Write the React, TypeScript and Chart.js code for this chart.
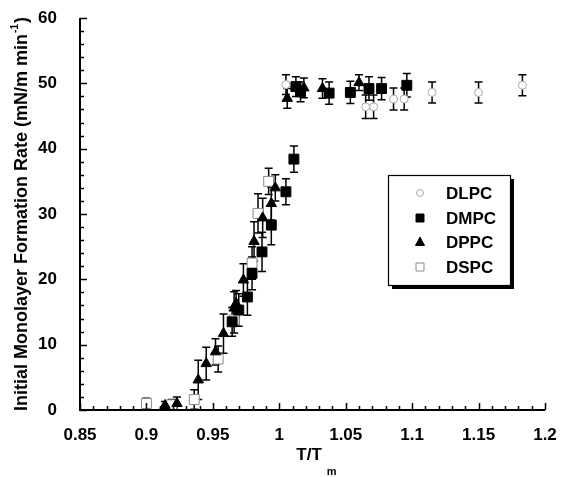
import React, { useEffect, useRef } from "react";
import { Chart, registerables } from "chart.js";
Chart.register(...registerables);

// ---- data ----
const DLPC_X = [1.005, 1.065, 1.071, 1.086, 1.094, 1.115, 1.15, 1.183];
const DLPC_Y = [49.8, 46.4, 46.4, 47.6, 47.6, 48.6, 48.6, 49.7];
const DLPC_E = [1.5, 1.8, 1.8, 1.7, 1.7, 1.6, 1.6, 1.6];

const DMPC_X = [0.9645, 0.9695, 0.976, 0.9795, 0.987, 0.994, 1.005, 1.011, 1.0125, 1.016, 1.0375, 1.0535, 1.0675, 1.077, 1.096];
const DMPC_Y = [13.5, 15.3, 17.3, 20.9, 24.2, 28.3, 33.4, 38.4, 49.5, 48.7, 48.5, 48.6, 49.2, 49.2, 49.7];
const DMPC_E = [2.2, 2.5, 2.8, 2.5, 3.0, 3.0, 2.0, 2.0, 1.5, 1.5, 1.7, 1.7, 1.8, 1.7, 1.8];

const DPPC_X = [0.914, 0.923, 0.939, 0.945, 0.952, 0.958, 0.966, 0.9675, 0.973, 0.981, 0.9875, 0.994, 0.997, 1.006, 1.0185, 1.0325, 1.06];
const DPPC_Y = [0.7, 1.0, 4.6, 7.1, 8.9, 11.7, 15.6, 16.3, 19.9, 25.8, 29.4, 31.6, 34.0, 47.7, 49.3, 49.2, 50.1];
const DPPC_E = [0.6, 1.0, 3.0, 2.5, 2.0, 3.0, 2.5, 2.0, 2.5, 3.0, 3.0, 2.5, 2.0, 1.5, 1.5, 1.5, 1.2];

const DSPC_X = [0.9, 0.919, 0.936, 0.954, 0.966, 0.9795, 0.984, 0.992];
const DSPC_Y = [1.0, 0.8, 1.6, 7.8, 13.8, 22.5, 30.1, 35.0];
const DSPC_E = [0.8, 0.8, 1.5, 2.0, 2.0, 2.5, 3.0, 2.0];

const X_MIN = 0.85, X_MAX = 1.2, X_STEP = 0.05, X_MINOR = 0.01;
const Y_MIN = 0, Y_MAX = 60, Y_STEP = 10, Y_MINOR = 2;

const Y_TITLE = "Initial Monolayer Formation Rate (mN/m min";
const Y_TITLE_SUP = "-1";
const X_TITLE = "T/T";
const X_TITLE_SUB = "m";
const LEGEND_NAMES = ["DLPC", "DMPC", "DPPC", "DSPC"];

const FONT = "'Liberation Sans', Arial, sans-serif";

const pts = (xs: number[], ys: number[]) => xs.map((x, i) => ({ x, y: ys[i] }));

const errorBars = {
  id: "errorBars",
  beforeDatasetsDraw(chart: any) {
    const ctx = chart.ctx;
    const ys = chart.scales.y;
    ctx.save();
    ctx.strokeStyle = "#000";
    ctx.lineWidth = 1.5;
    chart.data.datasets.forEach((ds: any, i: number) => {
      const meta = chart.getDatasetMeta(i);
      ds.data.forEach((p: any, j: number) => {
        const e = ds.errs[j];
        const px = meta.data[j].x;
        const t = ys.getPixelForValue(p.y + e);
        const b = ys.getPixelForValue(Math.max(p.y - e, 0));
        ctx.beginPath();
        ctx.moveTo(px, t); ctx.lineTo(px, b);
        ctx.moveTo(px - 4, t); ctx.lineTo(px + 4, t);
        ctx.moveTo(px - 4, b); ctx.lineTo(px + 4, b);
        ctx.stroke();
      });
    });
    ctx.restore();
  },
};

const axesPlugin = {
  id: "axesPlugin",
  afterDatasetsDraw(chart: any) {
    const ctx = chart.ctx;
    const a = chart.chartArea;
    const xs = chart.scales.x, ys = chart.scales.y;
    ctx.save();
    ctx.strokeStyle = "#000";
    ctx.lineWidth = 2;
    ctx.beginPath();
    ctx.moveTo(a.left, a.top); ctx.lineTo(a.left, a.bottom); ctx.lineTo(a.right, a.bottom);
    ctx.stroke();
    ctx.lineWidth = 1.5;
    ctx.beginPath();
    const nY = Math.round((Y_MAX - Y_MIN) / Y_MINOR);
    for (let k = 0; k <= nY; k++) {
      const v = Y_MIN + k * Y_MINOR;
      const py = Math.round(ys.getPixelForValue(v)) + 0.5;
      const len = Math.abs(v % Y_STEP) < 1e-9 ? 7 : 4;
      ctx.moveTo(a.left, py); ctx.lineTo(a.left + len, py);
    }
    const nX = Math.round((X_MAX - X_MIN) / X_MINOR);
    for (let k = 0; k <= nX; k++) {
      const v = X_MIN + k * X_MINOR;
      const px = Math.round(xs.getPixelForValue(v)) + 0.5;
      const len = k % Math.round(X_STEP / X_MINOR) === 0 ? 7 : 4;
      ctx.moveTo(px, a.bottom); ctx.lineTo(px, a.bottom - len);
    }
    ctx.stroke();
    ctx.restore();
  },
};

const titlesPlugin = {
  id: "titlesPlugin",
  afterDraw(chart: any) {
    const ctx = chart.ctx;
    const a = chart.chartArea;
    ctx.save();
    ctx.fillStyle = "#000";
    // y title
    const big = `bold 18px ${FONT}`;
    const small = `bold 10px ${FONT}`;
    ctx.font = big;
    const w1 = ctx.measureText(Y_TITLE).width;
    ctx.font = small;
    const w2 = ctx.measureText(Y_TITLE_SUP).width;
    ctx.font = big;
    const w3 = ctx.measureText(")").width;
    const total = w1 + w2 + w3 + 2;
    ctx.translate(22, (a.top + a.bottom) / 2);
    ctx.rotate(-Math.PI / 2);
    ctx.textBaseline = "middle";
    ctx.textAlign = "left";
    let sx = -total / 2;
    ctx.fillText(Y_TITLE, sx, 0);
    sx += w1 + 1;
    ctx.font = small;
    ctx.fillText(Y_TITLE_SUP, sx, -7);
    sx += w2 + 1;
    ctx.font = big;
    ctx.fillText(")", sx, 0);
    ctx.restore();

    // x title
    ctx.save();
    ctx.fillStyle = "#000";
    ctx.font = `bold 17px ${FONT}`;
    const tw = ctx.measureText(X_TITLE).width;
    ctx.font = `bold 11px ${FONT}`;
    const sw = ctx.measureText(X_TITLE_SUB).width;
    const cx = (a.left + a.right) / 2 + 4;
    const x0 = cx - (tw + 5 + sw) / 2;
    ctx.textBaseline = "alphabetic";
    ctx.textAlign = "left";
    ctx.font = `bold 17px ${FONT}`;
    ctx.fillText(X_TITLE, x0, 460);
    ctx.font = `bold 11px ${FONT}`;
    ctx.fillText(X_TITLE_SUB, x0 + tw + 5, 475);
    ctx.restore();
  },
};

const legendPlugin = {
  id: "customLegend",
  afterDraw(chart: any) {
    const ctx = chart.ctx;
    const L = 388, T = 175, W = 122, H = 110;
    ctx.save();
    ctx.fillStyle = "#000";
    ctx.fillRect(L + 4, T + 4, W, H);
    ctx.fillStyle = "#fff";
    ctx.fillRect(L, T, W, H);
    ctx.strokeStyle = "#000";
    ctx.lineWidth = 1.2;
    ctx.strokeRect(L + 0.5, T + 0.5, W, H);
    const rows = [193, 218, 242, 267];
    chart.data.datasets.forEach((ds: any, i: number) => {
      const y = rows[i];
      const mx = 420;
      ctx.save();
      ctx.fillStyle = ds.backgroundColor;
      ctx.strokeStyle = ds.borderColor;
      ctx.lineWidth = ds.borderWidth;
      ctx.beginPath();
      if (ds.pointStyle === "circle") {
        ctx.arc(mx, y, 3.5, 0, Math.PI * 2);
        ctx.fill(); ctx.stroke();
      } else if (ds.pointStyle === "rect") {
        ctx.rect(mx - 4, y - 4, 8, 8);
        ctx.fill(); ctx.stroke();
      } else {
        ctx.moveTo(mx, y - 5); ctx.lineTo(mx + 4.5, y + 3.5); ctx.lineTo(mx - 4.5, y + 3.5); ctx.closePath();
        ctx.fill(); ctx.stroke();
      }
      ctx.restore();
      ctx.fillStyle = "#000";
      ctx.font = `bold 17px ${FONT}`;
      ctx.textBaseline = "middle";
      ctx.textAlign = "left";
      ctx.fillText(LEGEND_NAMES[i], 446, y + 1);
    });
    ctx.restore();
  },
};

export default function App() {
  const ref = useRef<HTMLCanvasElement>(null);
  useEffect(() => {
    document.body.style.margin = "0";
    const chart = new Chart(ref.current!, {
      type: "scatter",
      data: {
        datasets: [
          { label: LEGEND_NAMES[0], data: pts(DLPC_X, DLPC_Y), errs: DLPC_E, pointStyle: "circle", pointRadius: 4, backgroundColor: "#fff", borderColor: "#aaa", borderWidth: 1 } as any,
          { label: LEGEND_NAMES[1], data: pts(DMPC_X, DMPC_Y), errs: DMPC_E, pointStyle: "rect", pointRadius: 7, backgroundColor: "#000", borderColor: "#000", borderWidth: 1 } as any,
          { label: LEGEND_NAMES[2], data: pts(DPPC_X, DPPC_Y), errs: DPPC_E, pointStyle: "triangle", pointRadius: 6, backgroundColor: "#000", borderColor: "#000", borderWidth: 1 } as any,
          { label: LEGEND_NAMES[3], data: pts(DSPC_X, DSPC_Y), errs: DSPC_E, pointStyle: "rect", pointRadius: 7, backgroundColor: "#fff", borderColor: "#888", borderWidth: 1 } as any,
        ],
      },
      options: {
        responsive: false,
        animation: false,
        devicePixelRatio: 1,
        layout: { padding: { left: 0, top: 18, right: 16, bottom: 0 } },
        plugins: { legend: { display: false }, tooltip: { enabled: false } },
        scales: {
          x: {
            type: "linear",
            min: X_MIN, max: X_MAX,
            afterFit: (s: any) => { s.height = 67; s.paddingLeft = 0; s.paddingRight = 0; },
            grid: { display: false, drawTicks: false },
            border: { display: false },
            ticks: {
              stepSize: X_STEP,
              padding: 15,
              color: "#000",
              font: { family: FONT, size: 17, weight: "bold" },
              callback: (v: any) => String(Number(Number(v).toFixed(2))),
            },
          },
          y: {
            type: "linear",
            min: Y_MIN, max: Y_MAX,
            afterFit: (s: any) => { s.width = 80; s.paddingTop = 0; s.paddingBottom = 0; },
            grid: { display: false, drawTicks: false },
            border: { display: false },
            ticks: {
              stepSize: Y_STEP,
              padding: 23,
              color: "#000",
              font: { family: FONT, size: 17, weight: "bold" },
            },
          },
        },
      },
      plugins: [errorBars, axesPlugin, legendPlugin, titlesPlugin],
    } as any);
    return () => chart.destroy();
  }, []);
  return (
    <div style={{ width: 561, height: 477 }}>
      <canvas ref={ref} width={561} height={477} style={{ display: "block" }} />
    </div>
  );
}
